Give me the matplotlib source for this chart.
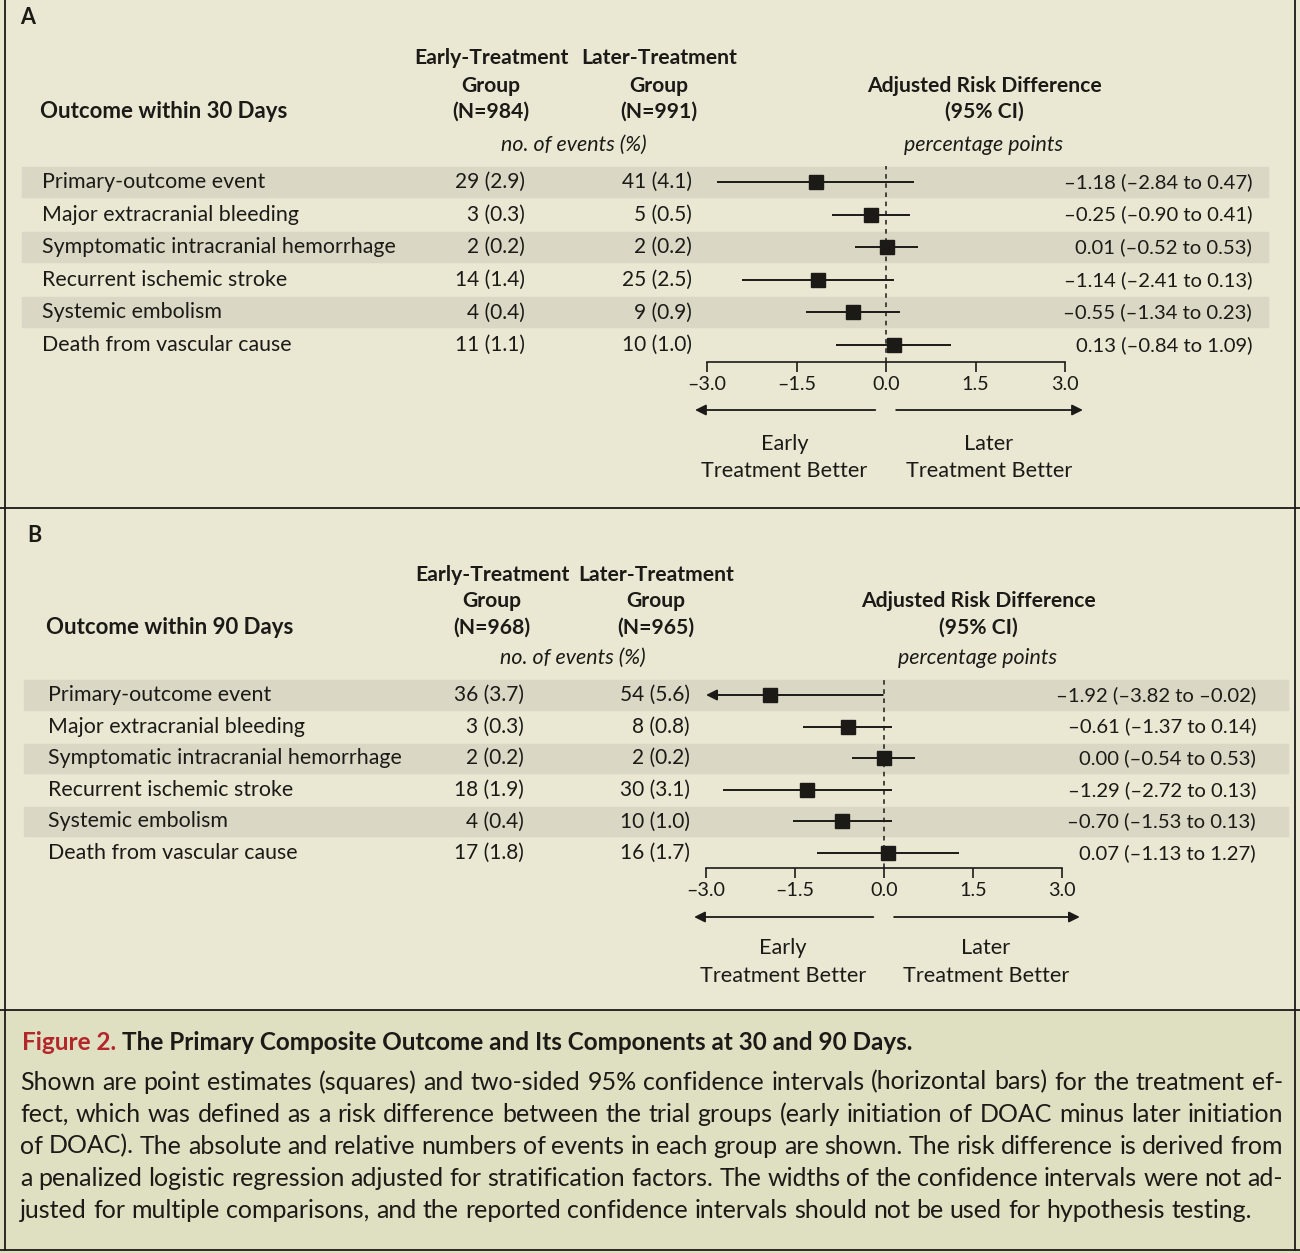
import matplotlib
matplotlib.use("Agg")
import matplotlib.pyplot as plt
from matplotlib.transforms import blended_transform_factory
from matplotlib.patches import Rectangle
from matplotlib.lines import Line2D

W, H = 1300, 1253
plt.rcParams['font.family'] = ['Lato', 'DejaVu Sans']

# ---- data -------------------------------------------------------------
outcomes = ["Primary-outcome event", "Major extracranial bleeding",
            "Symptomatic intracranial hemorrhage", "Recurrent ischemic stroke",
            "Systemic embolism", "Death from vascular cause"]

early_30_n = [29, 3, 2, 14, 4, 11]
early_30_pct = [2.9, 0.3, 0.2, 1.4, 0.4, 1.1]
later_30_n = [41, 5, 2, 25, 9, 10]
later_30_pct = [4.1, 0.5, 0.2, 2.5, 0.9, 1.0]
rd_30 = [-1.18, -0.25, 0.01, -1.14, -0.55, 0.13]
lo_30 = [-2.84, -0.90, -0.52, -2.41, -1.34, -0.84]
hi_30 = [0.47, 0.41, 0.53, 0.13, 0.23, 1.09]

early_90_n = [36, 3, 2, 18, 4, 17]
early_90_pct = [3.7, 0.3, 0.2, 1.9, 0.4, 1.8]
later_90_n = [54, 8, 2, 30, 10, 16]
later_90_pct = [5.6, 0.8, 0.2, 3.1, 1.0, 1.7]
rd_90 = [-1.92, -0.61, 0.00, -1.29, -0.70, 0.07]
lo_90 = [-3.82, -1.37, -0.54, -2.72, -1.53, -1.13]
hi_90 = [-0.02, 0.14, 0.53, 0.13, 0.13, 1.27]

xticks = [-3.0, -1.5, 0.0, 1.5, 3.0]
xtick_labels = ["\u20133.0", "\u20131.5", "0.0", "1.5", "3.0"]
xlim = (-3.0, 3.0)

caption_lines = [
    "Shown are point estimates (squares) and two-sided 95% confidence intervals (horizontal bars) for the treatment ef-",
    "fect, which was defined as a risk difference between the trial groups (early initiation of DOAC minus later initiation",
    "of DOAC). The absolute and relative numbers of events in each group are shown. The risk difference is derived from",
    "a penalized logistic regression adjusted for stratification factors. The widths of the confidence intervals were not ad-",
    "justed for multiple comparisons, and the reported confidence intervals should not be used for hypothesis testing.",
]

INK = '#1b1a17'
PANEL_BG = '#eae7d3'
CAP_BG = '#dfdfc1'
SHADE = '#dbd7c5'
RED = '#b3262c'

FS_LAB = 15.4
FS_NUM = 15
FS_CI = 14.6
FS_HDR = 15.2
FS_IT = 15.4


def fx(px):
    return px / W


def fy(py):
    return 1 - py / H


def num(v):
    return f"{v:.2f}".replace('-', '\u2013')


fig = plt.figure(figsize=(13, 12.53), dpi=100)
fig.patch.set_facecolor(PANEL_BG)

# caption background and frame
fig.add_artist(Rectangle((0, 0), 1, fy(1010), transform=fig.transFigure,
                         color=CAP_BG, zorder=-5))
for (x0, y0, x1, y1) in [(5, 0, 5, 1250), (1295, 0, 1295, 1250),
                         (0, 508, 1300, 508), (0, 1010, 1300, 1010),
                         (0, 1250, 1300, 1250)]:
    fig.add_artist(Line2D([fx(x0), fx(x1)], [fy(y0), fy(y1)],
                          color=INK, lw=1.3, transform=fig.transFigure))


def draw_panel(p):
    # header
    fig.text(fx(p['lx']), fy(p['ly']), p['letter'], fontsize=15.5,
             fontweight='bold', color=INK, va='center')
    fig.text(fx(p['title_x']), fy(p['hdr'][2]), p['title'], fontsize=16,
             fontweight='bold', color=INK, va='center')
    for cx, lines in [(p['c1'], ["Early-Treatment", "Group", p['n1']]),
                      (p['c2'], ["Later-Treatment", "Group", p['n2']])]:
        for yy, s in zip(p['hdr'][:3], lines):
            fig.text(fx(cx), fy(yy), s, fontsize=FS_HDR, fontweight='bold',
                     color=INK, ha='center', va='center')
    fig.text(fx(p['cev']), fy(p['hdr'][3]), "no. of events (%)", fontsize=FS_IT,
             style='italic', color=INK, ha='center', va='center')
    for yy, s in zip(p['hdr'][1:3], ["Adjusted Risk Difference", "(95% CI)"]):
        fig.text(fx(p['crd']), fy(yy), s, fontsize=FS_HDR,
                 fontweight='bold', color=INK, ha='center', va='center')
    fig.text(fx(p['crd']), fy(p['hdr'][3]), "percentage points", fontsize=FS_IT,
             style='italic', color=INK, ha='center', va='center')

    # forest axes
    x0px, x1px = p['xm3'], p['xp3']
    y_top = p['row0'] - 0.5 * p['step']
    ax = fig.add_axes([fx(x0px), fy(p['yaxis']), (x1px - x0px) / W,
                       (p['yaxis'] - y_top) / H])
    ax.patch.set_visible(False)
    ax.set_xlim(*xlim)
    ax.set_ylim((p['yaxis'] - p['row0']) / p['step'], -0.5)
    for s in ['top', 'left', 'right']:
        ax.spines[s].set_visible(False)
    ax.spines['bottom'].set_color(INK)
    ax.spines['bottom'].set_linewidth(1.2)
    ax.set_yticks([])
    ax.set_xticks(xticks)
    ax.set_xticklabels(xtick_labels)
    ax.tick_params(axis='x', direction='out', length=7, width=1.2,
                   labelsize=14.2, pad=3, colors=INK)

    blend = blended_transform_factory(fig.transFigure, ax.transData)
    rows = list(range(len(outcomes)))
    for i in rows:
        if i % 2 == 0:
            ax.add_patch(Rectangle((fx(p['shade'][0]), i - 0.46),
                                   fx(p['shade'][1]) - fx(p['shade'][0]), 0.92,
                                   transform=blend, color=SHADE, zorder=0,
                                   clip_on=False))
        ax.text(fx(p['title_x'] + 2), i, outcomes[i], transform=blend,
                fontsize=FS_LAB, color=INK, va='center')
        ax.text(fx(p['r1']), i, f"{p['e_n'][i]} ({p['e_p'][i]:.1f})",
                transform=blend, fontsize=FS_NUM, color=INK, ha='right',
                va='center')
        ax.text(fx(p['r2']), i, f"{p['l_n'][i]} ({p['l_p'][i]:.1f})",
                transform=blend, fontsize=FS_NUM, color=INK, ha='right',
                va='center')
        ax.text(fx(p['rci']), i,
                f"{num(p['rd'][i])} ({num(p['lo'][i])} to {num(p['hi'][i])})",
                transform=blend, fontsize=FS_CI, color=INK, ha='right',
                va='center')

        if p['lo'][i] < xlim[0]:
            ax.annotate("", xy=(xlim[0], i), xytext=(p['hi'][i], i),
                        arrowprops=dict(arrowstyle='-|>', color=INK, lw=1.4,
                                        mutation_scale=16, shrinkA=0, shrinkB=0),
                        zorder=3)
        else:
            ax.hlines(i, p['lo'][i], p['hi'][i], color=INK, lw=1.4, zorder=3)
    ax.plot(p['rd'], rows, 's', color=INK, markersize=9.5, zorder=4,
            clip_on=False)
    ax.axvline(0, color=INK, lw=1.1, ls=(0, (3, 3)), zorder=2)

    # direction arrows
    for a, b in [(-0.18, -3.2), (0.17, 3.3)]:
        ax.annotate("", xy=(b, fy(p['yarrow'])), xytext=(a, fy(p['yarrow'])),
                    xycoords=('data', 'figure fraction'),
                    textcoords=('data', 'figure fraction'),
                    arrowprops=dict(arrowstyle='-|>', color=INK, lw=1.3,
                                    mutation_scale=16, shrinkA=0, shrinkB=0),
                    annotation_clip=False)
    for xc, word in [(-1.7, "Early"), (1.72, "Later")]:
        ax.annotate(word, xy=(xc, fy(p['ybet'][0])),
                    xycoords=('data', 'figure fraction'), fontsize=15.6,
                    color=INK, ha='center', va='center', annotation_clip=False)
        ax.annotate("Treatment Better", xy=(xc, fy(p['ybet'][1])),
                    xycoords=('data', 'figure fraction'), fontsize=15.6,
                    color=INK, ha='center', va='center', annotation_clip=False)


panel_a = dict(letter="A", lx=20, ly=18, title="Outcome within 30 Days",
               title_x=40, hdr=[58, 86, 112, 145],
               c1=491, c2=659, n1="(N=984)", n2="(N=991)", cev=574, crd=984,
               row0=182, step=32.6, yaxis=362, xm3=707, xp3=1065,
               shade=(22, 1268), r1=525, r2=692, rci=1252,
               e_n=early_30_n, e_p=early_30_pct, l_n=later_30_n,
               l_p=later_30_pct, rd=rd_30, lo=lo_30, hi=hi_30,
               yarrow=410, ybet=(444, 471))
panel_b = dict(letter="B", lx=27, ly=535, title="Outcome within 90 Days",
               title_x=46, hdr=[575, 601, 628, 658],
               c1=492, c2=656, n1="(N=968)", n2="(N=965)", cev=573, crd=978,
               row0=695, step=31.6, yaxis=868, xm3=706, xp3=1062,
               shade=(24, 1288), r1=524, r2=690, rci=1256,
               e_n=early_90_n, e_p=early_90_pct, l_n=later_90_n,
               l_p=later_90_pct, rd=rd_90, lo=lo_90, hi=hi_90,
               yarrow=917, ybet=(948, 976))

draw_panel(panel_a)
draw_panel(panel_b)

# ---- caption -----------------------------------------------------------
renderer = fig.canvas.get_renderer()
t1 = fig.text(fx(22), fy(1042), "Figure 2.", fontsize=17.5,
              fontweight='bold', color=RED, va='center')
w1 = t1.get_window_extent(renderer).width
fig.text(fx(22 + w1 + 6), fy(1042),
         "The Primary Composite Outcome and Its Components at 30 and 90 Days.",
         fontsize=17.5, fontweight='bold', color=INK, va='center')

FS_CAP = 18
cap_y = [1082, 1114, 1146, 1178, 1211]
left, right = 20, 1283
probe_two = fig.text(0, 0, "a a", fontsize=FS_CAP)
probe_one = fig.text(0, 0, "aa", fontsize=FS_CAP)
space = (probe_two.get_window_extent(renderer).width
         - probe_one.get_window_extent(renderer).width)
probe_two.remove()
probe_one.remove()
for k, (line, yy) in enumerate(zip(caption_lines, cap_y)):
    words = line.split(" ")
    arts = [fig.text(0, fy(yy), w, fontsize=FS_CAP, color=INK, va='center')
            for w in words]
    widths = [a.get_window_extent(renderer).width for a in arts]
    if k == len(caption_lines) - 1:
        gap = space
    else:
        gap = (right - left - sum(widths)) / (len(words) - 1)
    x = left
    for a, wd in zip(arts, widths):
        a.set_x(fx(x))
        x += wd + gap

fig.savefig("out.png", dpi=100, facecolor=fig.get_facecolor())
